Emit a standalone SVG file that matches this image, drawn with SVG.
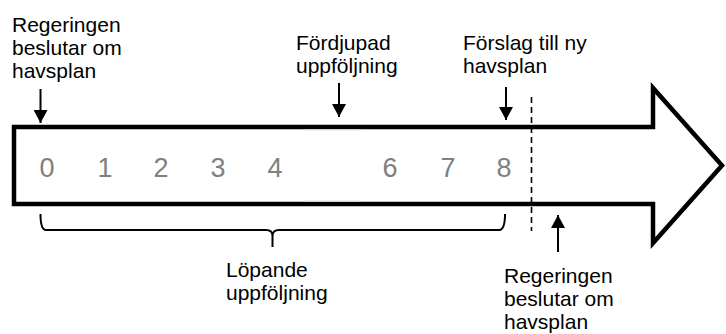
<svg xmlns="http://www.w3.org/2000/svg" width="726" height="334" viewBox="0 0 726 334">
<defs>
<style>
.lbl{font-family:"Liberation Sans",Arial,sans-serif;font-size:21px;fill:#000}
.num{font-family:"Liberation Sans",Arial,sans-serif;font-size:27px;fill:#808080;text-anchor:middle}
.conn{stroke:#000;stroke-width:2;fill:none}
</style>
<marker id="ah" markerUnits="userSpaceOnUse" markerWidth="16" markerHeight="14" refX="14" refY="7.5" orient="auto" viewBox="0 0 14 15">
<path d="M0,0 L14,7.5 L0,15 Z" fill="#000"/>
</marker>
</defs>
<rect width="726" height="334" fill="#fff"/>
<g id="timeline">
<path d="M14,127 L653,127 L653,88 L722,165.5 L653,243 L653,204 L14,204 Z" fill="#fff" stroke="#000" stroke-width="4.5" stroke-linejoin="miter"/>
<line x1="304" y1="130" x2="361" y2="130" stroke="#e4e4e4" stroke-width="1"/>
<line x1="304" y1="201" x2="361" y2="201" stroke="#e4e4e4" stroke-width="1"/>
<text class="num" x="47" y="176.5">0</text>
<text class="num" x="105" y="176.5">1</text>
<text class="num" x="161" y="176.5">2</text>
<text class="num" x="218" y="176.5">3</text>
<text class="num" x="275" y="176.5">4</text>
<text class="num" x="390" y="176.5">6</text>
<text class="num" x="448" y="176.5">7</text>
<text class="num" x="504" y="176.5">8</text>
</g>
<g id="divider">
<line x1="531.5" y1="97" x2="531.5" y2="231" stroke="#000" stroke-width="1.6" stroke-dasharray="6,4"/>
</g>
<g id="label-start">
<text class="lbl" x="12" y="32">Regeringen</text>
<text class="lbl" x="12" y="55">beslutar om</text>
<text class="lbl" x="12" y="78">havsplan</text>
</g>
<g id="label-deep">
<text class="lbl" x="296" y="50">Fördjupad</text>
<text class="lbl" x="296" y="73">uppföljning</text>
</g>
<g id="label-proposal">
<text class="lbl" x="463" y="50">Förslag till ny</text>
<text class="lbl" x="463" y="73">havsplan</text>
</g>
<g id="label-running">
<text class="lbl" x="226" y="277">Löpande</text>
<text class="lbl" x="226" y="300">uppföljning</text>
</g>
<g id="label-decision">
<text class="lbl" x="504" y="283">Regeringen</text>
<text class="lbl" x="504" y="306">beslutar om</text>
<text class="lbl" x="504" y="329">havsplan</text>
</g>
<g id="connectors">
<line class="conn" x1="40.5" y1="89" x2="40.5" y2="123" marker-end="url(#ah)"/>
<line class="conn" x1="339" y1="83" x2="339" y2="117" marker-end="url(#ah)"/>
<line class="conn" x1="506" y1="87" x2="506" y2="120" marker-end="url(#ah)"/>
<line class="conn" x1="558" y1="252" x2="558" y2="215" marker-end="url(#ah)"/>
<path class="conn" stroke-width="1.6" d="M40.5,214 Q40.5,230 46,230 L266,230 Q272.5,230 272.5,236 L272.5,247 M272.5,236 Q272.5,230 279,230 L499,230 Q505,230 505,214"/>
</g>
</svg>
